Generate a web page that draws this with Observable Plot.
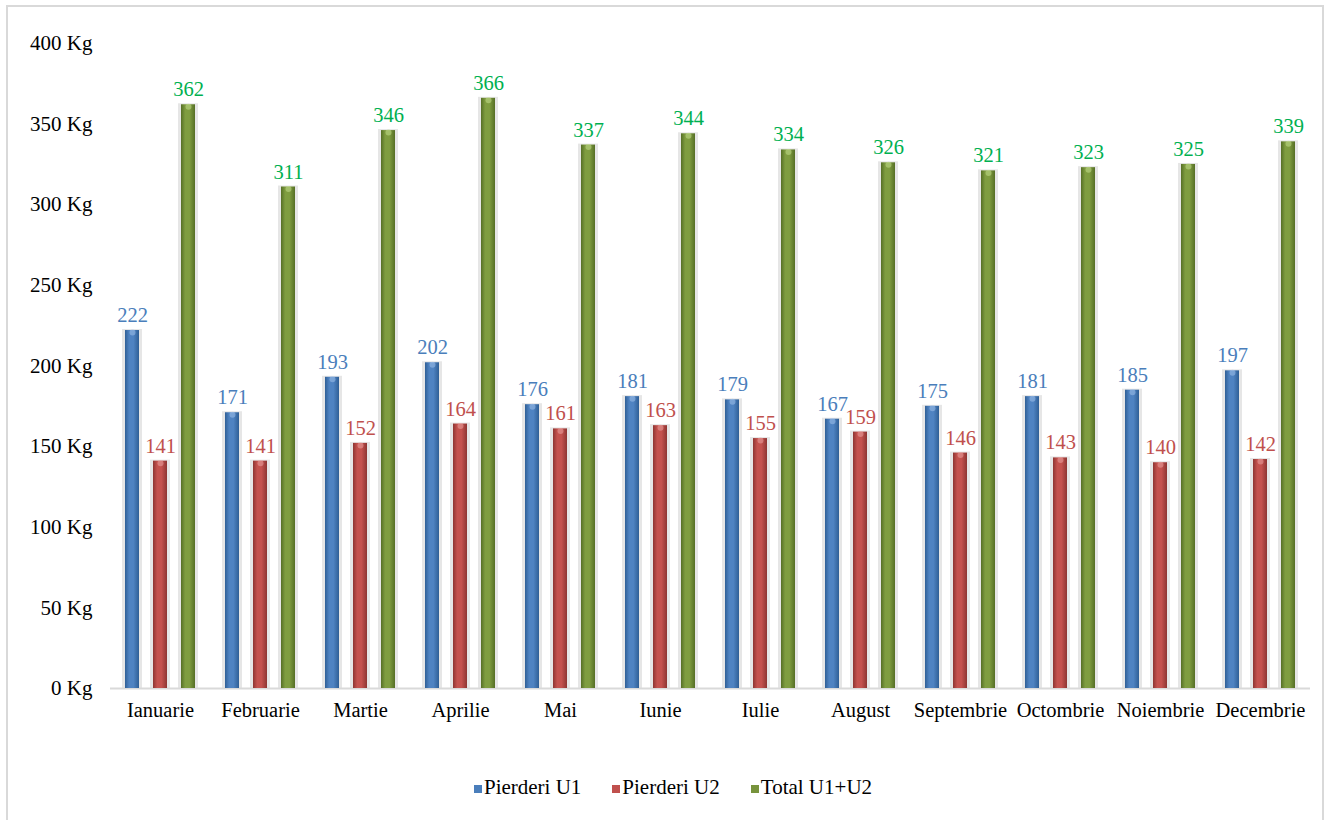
<!DOCTYPE html>
<html>
<head>
<meta charset="utf-8">
<script src="https://cdn.jsdelivr.net/npm/d3@7"></script>
<script src="https://cdn.jsdelivr.net/npm/@observablehq/plot@0.6"></script>
<style>
  html, body { margin: 0; padding: 0; background: #fff; width: 1332px; height: 820px; overflow: hidden; }
  #frame { position: absolute; left: 6px; top: 5px; width: 1318px; height: 840px; border: 2px solid #d9d9d9; box-sizing: border-box; }
  #chart { position: absolute; left: 0; top: 0; }
  #legend { position: absolute; left: 0; width: 1346px; top: 775px; display: flex; justify-content: center; gap: 31px;
            font-family: "Liberation Serif", "Times New Roman", serif; font-size: 21px; color: #000; }
  #legend .item { display: flex; align-items: center; }
  #legend .sw { width: 8px; height: 8px; margin-right: 2px; margin-top: 3px; }
</style>
</head>
<body>
<div id="frame"></div>
<div id="chart"></div>
<div id="legend"></div>
<script>
const months = ["Ianuarie","Februarie","Martie","Aprilie","Mai","Iunie","Iulie","August","Septembrie","Octombrie","Noiembrie","Decembrie"];
const seriesNames = ["Pierderi U1","Pierderi U2","Total U1+U2"];
const pierderiU1 = [222,171,193,202,176,181,179,167,175,181,185,197];
const pierderiU2 = [141,141,152,164,161,163,155,159,146,143,140,142];
const totalU1U2 = [362,311,346,366,337,344,334,326,321,323,325,339];
const yTicks = [0,50,100,150,200,250,300,350,400];

const seriesValues = [pierderiU1, pierderiU2, totalU1U2];
const barColors = [
  {id: "gU1", edge: "#2f5f96", mid: "#4f83c2", top: "#9ec0ea", label: "#4a7ebb", swatch: "#4a7ebb"},
  {id: "gU2", edge: "#8e3532", mid: "#c4524e", top: "#eaa2a0", label: "#c0504d", swatch: "#c0504d"},
  {id: "gT",  edge: "#566f26", mid: "#7f9d40", top: "#c2dc8c", label: "#00b050", swatch: "#77933c"}
];

const rows = [];
seriesNames.forEach((s, i) => months.forEach((m, j) => rows.push({month: m, series: s, value: seriesValues[i][j]})));

const marks = [];
// soft shadow halo
marks.push(Plot.barY(rows, {fx: "month", x: "series", y: "value", fill: "#e6e6e6", insetLeft: -3, insetRight: -3, insetTop: -1}));
marks.push(Plot.ruleY([0], {stroke: "#d9d9d9", strokeWidth: 2}));
seriesNames.forEach((s, i) => {
  const data = rows.filter(d => d.series === s);
  marks.push(Plot.barY(data, {fx: "month", x: "series", y: "value", fill: `url(#${barColors[i].id})`}));
  marks.push(Plot.dot(data, {fx: "month", x: "series", y: "value", r: 3, dy: 2, fill: barColors[i].top, fillOpacity: 0.55, stroke: "none"}));
  marks.push(Plot.text(data, {fx: "month", x: "series", y: "value", text: d => String(d.value), dy: -15,
    fill: barColors[i].label, fontSize: 20.5, fontFamily: "Liberation Serif"}));
});
marks.push(Plot.axisY({ticks: yTicks, tickSize: 0, tickPadding: 18, tickFormat: d => d + " Kg", fontSize: 21, fill: "#000", label: null}));
marks.push(Plot.axisFx({anchor: "bottom", tickSize: 0, tickPadding: 14, fontSize: 20.5, fill: "#000", label: null}));

const chart = Plot.plot({
  width: 1332,
  height: 760,
  marginLeft: 110,
  marginRight: 22,
  marginTop: 43,
  marginBottom: 72,
  style: {fontFamily: "Liberation Serif, Times New Roman, serif", background: "transparent", color: "#000"},
  fx: {domain: months, padding: 0, label: null},
  x: {domain: seriesNames, padding: 0.5, axis: null},
  y: {domain: [0, 400], axis: null, label: null},
  marks
});

// cylinder gradients
const ns = "http://www.w3.org/2000/svg";
const defs = document.createElementNS(ns, "defs");
barColors.forEach(c => {
  const g = document.createElementNS(ns, "linearGradient");
  g.setAttribute("id", c.id);
  g.setAttribute("x1", "0"); g.setAttribute("x2", "1"); g.setAttribute("y1", "0"); g.setAttribute("y2", "0");
  [[0, c.edge], [0.3, c.mid], [0.6, c.mid], [1, c.edge]].forEach(([o, col]) => {
    const st = document.createElementNS(ns, "stop");
    st.setAttribute("offset", o); st.setAttribute("stop-color", col);
    g.appendChild(st);
  });
  defs.appendChild(g);
});
chart.insertBefore(defs, chart.firstChild);
document.getElementById("chart").appendChild(chart);

const legend = document.getElementById("legend");
seriesNames.forEach((s, i) => {
  const it = document.createElement("div");
  it.className = "item";
  const sw = document.createElement("span");
  sw.className = "sw";
  sw.style.background = barColors[i].swatch;
  const t = document.createElement("span");
  t.textContent = s;
  it.appendChild(sw); it.appendChild(t);
  legend.appendChild(it);
});
</script>
</body>
</html>
